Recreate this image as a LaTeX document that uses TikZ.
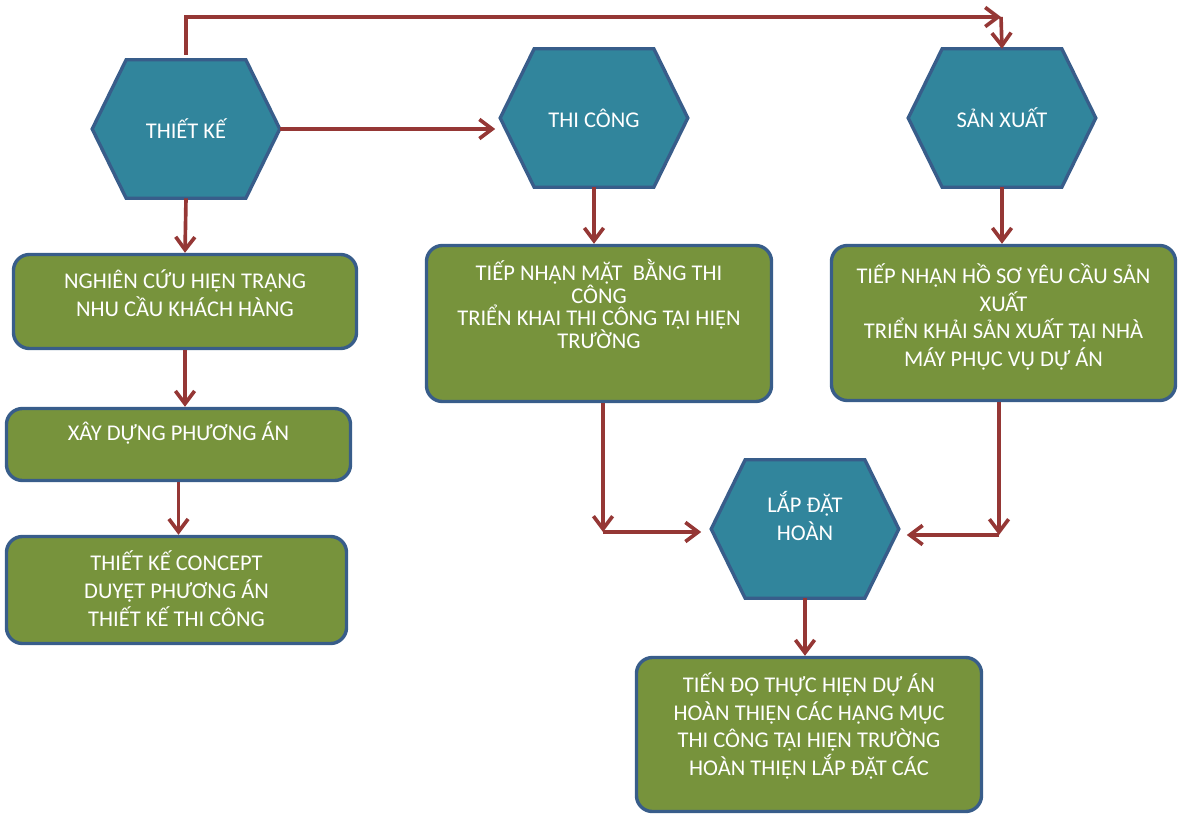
\documentclass[tikz,border=0pt]{standalone}
\usepackage{fontspec}
\setmainfont{Carlito}
\definecolor{hexfill}{RGB}{49, 133, 156}
\definecolor{edgeblue}{RGB}{56, 93, 138}
\definecolor{boxfill}{RGB}{119, 147, 60}
\definecolor{arrowred}{RGB}{149, 55, 53}
\usetikzlibrary{arrows.meta, calc}

\begin{document}
\begin{tikzpicture}[x=0.025cm, y=-0.025cm,
    hexbox/.style={minimum width=4.675cm, minimum height=3.45cm, inner sep=0pt},
    hexshape/.style={draw=edgeblue, fill=hexfill, line width=2.4pt},
    stepbox/.style={draw=edgeblue, fill=boxfill, line width=2.4pt, rounded corners=0.4cm},
    lbl/.style={text=white, align=center, font=\fontsize{16}{19.8}\selectfont},
    arr/.style={draw=arrowred, line width=2.6pt, -{Straight Barb[length=3.2mm,width=4.8mm]}}]
  \useasboundingbox (0,0) rectangle (1179,816);

  % Hexagons
  \node[hexbox] (tk) at (186,129) {};
  \node[hexbox] (tc) at (594,118) {};
  \node[hexbox] (sx) at (1002,118) {};
  \node[hexbox] (ld) at (805,529) {};
  \foreach \n in {tk,tc,sx,ld}
    \draw[hexshape] (\n.west) -- ($(\n.north west)+(34,0)$) -- ($(\n.north east)+(-34,0)$)
      -- (\n.east) -- ($(\n.south east)+(-34,0)$) -- ($(\n.south west)+(34,0)$) -- cycle;

  % Steps
  \node[stepbox, minimum width=8.575cm, minimum height=2.35cm] (nc) at (185,301.5) {};
  \node[stepbox, minimum width=8.6cm, minimum height=1.8cm] (xd) at (178.5,444.5) {};
  \node[stepbox, minimum width=8.5cm, minimum height=2.675cm] (tkc) at (176.5,590) {};
  \node[stepbox, minimum width=8.625cm, minimum height=3.9cm] (tnm) at (599,323.5) {};
  \node[stepbox, minimum width=8.6cm, minimum height=3.875cm] (tnh) at (1003.5,323) {};
  \node[stepbox, minimum width=8.625cm, minimum height=3.85cm] (td) at (809,734.5) {};

  % Labels
  \node[lbl] (tk-t) at (186,129) {THIẾT KẾ};
  \node[lbl] (tc-t) at (594,118) {THI CÔNG};
  \node[lbl] (sx-t) at (1002,118) {SẢN XUẤT};
  \node[lbl] (ld-t) at (805,516) {LẮP ĐẶT\\HOÀN};
  \node[lbl] (nc-t) at (185,293) {NGHIÊN CỨU HIỆN TRẠNG\\NHU CẦU KHÁCH HÀNG};
  \node[lbl] (xd-t) at (178.5,433) {XÂY DỰNG PHƯƠNG ÁN};
  \node[lbl] (tkc-t) at (176.5,589) {THIẾT KẾ CONCEPT\\DUYỆT PHƯƠNG ÁN\\THIẾT KẾ THI CÔNG};
  \node[lbl, font=\fontsize{16}{16.3}\selectfont] (tnm-t) at (599,304)
    {TIẾP NHẬN MẶT\ \ BẰNG THI\\CÔNG\\TRIỂN KHAI THI CÔNG TẠI HIỆN\\TRƯỜNG};
  \node[lbl] (tnh-t) at (1003.5,317)
    {TIẾP NHẬN HỒ SƠ YÊU CẦU SẢN\\XUẤT\\TRIỂN KHẢI SẢN XUẤT TẠI NHÀ\\MÁY PHỤC VỤ DỰ ÁN};
  \node[lbl] (td-t) at (809,726)
    {TIẾN ĐỘ THỰC HIỆN DỰ ÁN\\HOÀN THIỆN CÁC HẠNG MỤC\\THI CÔNG TẠI HIỆN TRƯỜNG\\HOÀN THIỆN LẮP ĐẶT CÁC};

  % Arrows
  \coordinate (top) at (1001,17);
  \coordinate (jl) at (603,532);
  \coordinate (jr) at (999,535);
  \draw[arr, shorten <=1.25mm] (tk.north) |- (top);
  \draw[arr] (top) -- (sx.north);
  \draw[arr, shorten >=1.25mm] (tk.east) -- (tk.east -| tc.west);
  \draw[arr] (tk.south) -- (nc.north);
  \draw[arr] (nc.south) -- (nc.south |- xd.north);
  \draw[arr] (xd.south) -- (xd.south |- tkc.north);
  \draw[arr] (tc.south) -- (tc.south |- tnm.north);
  \draw[arr] (sx.south) -- (sx.south |- tnh.north);
  \draw[arr] (tnm.south -| jl) -- (jl);
  \draw[arr, shorten >=2.5mm] (jl) -- (jl -| ld.west);
  \draw[arr] (tnh.south -| jr) -- (jr);
  \draw[arr, shorten >=2mm] (jr) -- (jr -| ld.east);
  \draw[arr] (ld.south) -- (ld.south |- td.north);
\end{tikzpicture}
\end{document}
